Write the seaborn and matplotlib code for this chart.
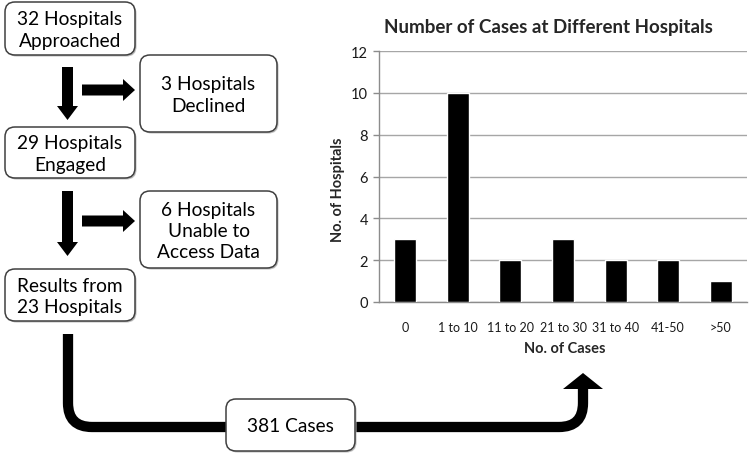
import matplotlib
matplotlib.use("Agg")
import matplotlib.pyplot as plt
import seaborn as sns
import pandas as pd
from matplotlib.patches import FancyBboxPatch, FancyArrow, Polygon, PathPatch
from matplotlib.path import Path

# ---- data ----
categories = ["0", "1 to 10", "11 to 20", "21 to 30", "31 to 40", "41-50", ">50"]
hospitals = [3, 10, 2, 3, 2, 2, 1]
yticks = [0, 2, 4, 6, 8, 10, 12]
title = "Number of Cases at Different Hospitals"
xlabel = "No. of Cases"
ylabel = "No. of Hospitals"
box_texts = ["32 Hospitals\nApproached", "3 Hospitals\nDeclined", "29 Hospitals\nEngaged",
             "6 Hospitals\nUnable to\nAccess Data", "Results from\n23 Hospitals", "381 Cases"]

sns.set_theme(style="white")
FONT = ["Lato", "DejaVu Sans"]
plt.rcParams["font.family"] = FONT

W, H = 750, 460
fig = plt.figure(figsize=(W / 100, H / 100), dpi=100)

# pixel-coordinate canvas for the flowchart
ax0 = fig.add_axes([0, 0, 1, 1])
ax0.set_xlim(0, W)
ax0.set_ylim(H, 0)
ax0.axis("off")

def box(x0, y0, x1, y1, text, fs=13.8):
    sh = FancyBboxPatch((x0 + 1.5, y0 + 1.5), x1 - x0, y1 - y0,
                        boxstyle="round,pad=0,rounding_size=10",
                        fc="#bdbdbd", ec="none", zorder=1)
    ax0.add_patch(sh)
    p = FancyBboxPatch((x0, y0), x1 - x0, y1 - y0,
                       boxstyle="round,pad=0,rounding_size=10",
                       fc="white", ec="#404040", lw=1.1, zorder=2)
    ax0.add_patch(p)
    ax0.text((x0 + x1) / 2, (y0 + y1) / 2 + 1, text, ha="center", va="center",
             fontsize=fs, linespacing=1.3, color="black", zorder=3)

box(5, 3, 135, 56, box_texts[0])
box(140, 56, 277, 133, box_texts[1])
box(5, 128, 135, 179, box_texts[2])
box(140, 192, 277, 269, box_texts[3])
box(5, 270, 135, 322, box_texts[4])

def down_arrow(x, y0, y1):
    ax0.add_patch(FancyArrow(x, y0, 0, y1 - y0, width=11, head_width=21,
                             head_length=14, length_includes_head=True,
                             fc="black", ec="none", zorder=2))

def right_arrow(y, x0, x1):
    ax0.add_patch(FancyArrow(x0, y, x1 - x0, 0, width=11, head_width=22,
                             head_length=12, length_includes_head=True,
                             fc="black", ec="none", zorder=2))

down_arrow(67.5, 68, 121)
right_arrow(91, 82, 135)
down_arrow(67.5, 192, 257)
right_arrow(222, 82, 135)

# big U-shaped arrow
r = 24
xa, xb, yb, ytop = 68, 583, 428, 335
verts = [(xa, ytop), (xa, yb - r), (xa, yb), (xa + r, yb),
         (xb - r, yb), (xb, yb), (xb, yb - r), (xb, 389)]
codes = [Path.MOVETO, Path.LINETO, Path.CURVE3, Path.CURVE3,
         Path.LINETO, Path.CURVE3, Path.CURVE3, Path.LINETO]
ax0.add_patch(PathPatch(Path(verts, codes), fc="none", ec="black",
                        lw=7.4, capstyle="butt", joinstyle="round", zorder=1))
ax0.add_patch(Polygon([(563, 390), (603, 390), (583, 374)], closed=True,
                      fc="black", ec="none", zorder=1))

box(226, 400, 355, 452, box_texts[5])

# ---- bar chart ----
L, R, T, B = 379, 747, 52, 303
ax = fig.add_axes([L / W, 1 - B / H, (R - L) / W, (B - T) / H])
df = pd.DataFrame({"cat": categories, "n": hospitals})
sns.barplot(data=df, x="cat", y="n", color="black", width=0.42,
            saturation=1, ax=ax, zorder=3)
ax.set_xlim(-0.5, len(categories) - 0.5)
ax.set_ylim(0, 12)
ax.set_yticks(yticks)
ax.yaxis.grid(True, color="#a6a6a6", lw=1, zorder=0)
ax.set_axisbelow(True)
for s in ["top", "right"]:
    ax.spines[s].set_visible(False)
for s in ["left", "bottom"]:
    ax.spines[s].set_color("#8c8c8c")
    ax.spines[s].set_linewidth(1)
ax.tick_params(axis="y", length=4, width=1, color="#8c8c8c", labelsize=10.5,
               pad=4, left=True, labelcolor="#1a1a1a")
ax.tick_params(axis="x", length=0, labelsize=9, pad=14, labelcolor="#1a1a1a")
ax.set_xlabel(xlabel, fontsize=10.5, fontweight="bold", labelpad=10)
ax.set_ylabel(ylabel, fontsize=10.5, fontweight="bold", labelpad=10)
ax.yaxis.set_label_coords((338 - L) / (R - L), (B - 190) / (B - T))
ax.xaxis.set_label_coords((565 - L) / (R - L), (B - 349) / (B - T))
ax.xaxis.label.set_va("center")
ax.yaxis.label.set_va("center")
fig.text(548 / W, 1 - 28 / H, title, ha="center", va="center",
         fontsize=13.5, fontweight="bold")

fig.savefig("out.png", dpi=100)
